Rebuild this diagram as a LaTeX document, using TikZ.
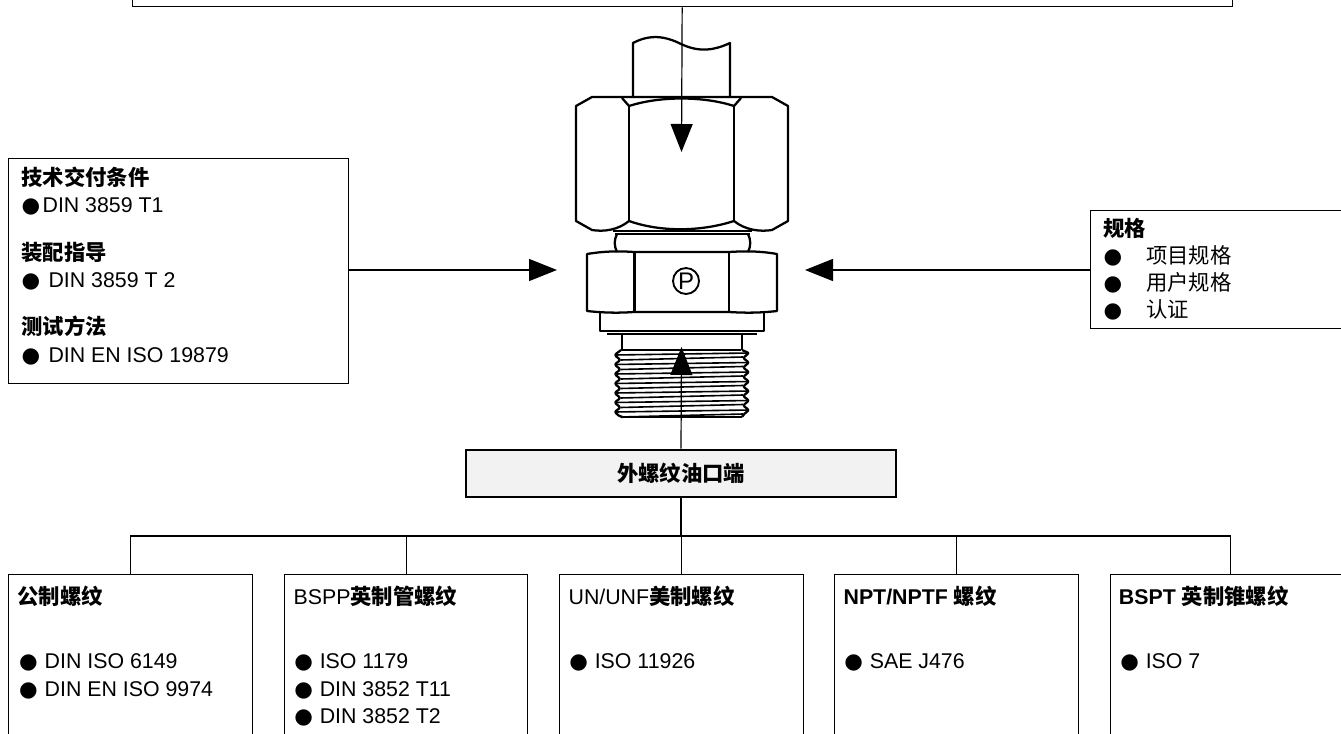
\documentclass[tikz,border=0pt]{standalone}
\usepackage{fontspec}
\setmainfont{Liberation Sans}
\newfontfamily\cjk{Noto Sans CJK SC}
\newfontfamily\sym{DejaVu Sans}
\usetikzlibrary{arrows.meta,positioning}
\newcommand{\px}{0.75pt}
\newcommand{\bul}{\makebox[15.75pt][l]{\sym ●}}
\newcommand{\bulsp}{\bul\hspace{3.4pt}}
\begin{document}
\begin{tikzpicture}[
  x=0.75pt,y=-0.75pt,
  box/.style={draw,line width=1pt,anchor=north west,minimum height=200*\px},
  txt/.style={inner sep=0pt,anchor=north west,align=left,font=\fontsize{16}{20.6}\selectfont},
  conn/.style={line width=0.9pt},
  arrow/.style={line width=0.9pt,-{Triangle[length=21pt,width=16.5pt]}},
  part/.style={line width=1.7pt,line join=round},
  thread/.style={line width=1.2pt}
]
\useasboundingbox (0,0) rectangle (1341,734);
\clip (0,0) rectangle (1341,734);

% fitting
\draw[part] (633,97) -- (633,43) .. controls (650,34) and (665,36) .. (681,44) .. controls (700,53) and (715,50) .. (730,43) -- (730,97);
\draw[part] (576,106) -- (592,97) -- (772,97) -- (788,106) -- (788,221) -- (772,230) .. controls (760,232) and (745,230) .. (734,221)
  .. controls (700,232) and (660,232) .. (629,221) .. controls (618,230) and (604,232) .. (592,230) -- (576,221) -- cycle;
\draw[part] (629,106) -- (629,221) (734,106) -- (734,221);
\draw[part] (629,106) .. controls (660,96) and (703,96) .. (734,106);
\draw[part] (622,98) -- (629,106) (741,98) -- (734,106);
\draw[part] (613,231) -- (752,231) (615,234) -- (750,234);
\draw[part] (617,234) .. controls (614,240) and (614,246) .. (617,252) (748,234) .. controls (751,240) and (751,246) .. (748,252);
\draw[part] (587,254) .. controls (605,251) and (620,251) .. (634,252) -- (729,252) .. controls (745,251) and (760,251) .. (777,254) -- (777,311)
  .. controls (760,313) and (745,313) .. (729,312) -- (634,312) .. controls (620,313) and (605,313) .. (587,311) -- cycle;
\draw[part] (634.5,252) -- (634.5,312) (729,252) -- (729,312);
\draw[part] (600,313) -- (600,331) -- (764,331) -- (764,313);
\draw[part] (607,334) -- (757,334);
\draw[part] (622,334) -- (622,350) (742,334) -- (742,350);
\draw[part] (621,350) -- (741,350) (621,417) -- (742,417);
\draw[part,rounded corners=1.5pt] (621,350) \foreach \n in {0,...,6} { -- (614.5,355+9.5*\n) -- (620.5,360+9.5*\n) } -- (621,417);
\draw[part,rounded corners=1.5pt] (742,350) \foreach \n in {0,...,6} { -- (749,353+9.5*\n) -- (743,358+9.5*\n) } -- (742,417);
\foreach \n in {0,...,6} {
  \draw[thread] (615,355+9.5*\n) -- (749,353+9.5*\n);
  \draw[thread] (620.5,360+9.5*\n) -- (743,357+9.5*\n);
}
\node[circle,draw,line width=1.4pt,inner sep=0pt,minimum size=26*\px,font=\fontsize{18}{18}\selectfont] (port) at (686,281) {P};

% boxes
\node[box,minimum width=1100*\px] (topbox) at (131.5,-194) {};
\node[box,minimum width=340*\px,minimum height=225*\px] (delivery) at (8,158) {};
\node[box,minimum width=300*\px,minimum height=118*\px] (spec) at (1090,210) {};
\node[draw,line width=2pt,fill=black!5,minimum width=430*\px,minimum height=47*\px,font=\fontsize{16}{20.6}\selectfont\bfseries\cjk] (port box) at (681,473.5) {外螺纹油口端};
\node[box,minimum width=244*\px] (metric) at (8,573.7) {};
\node[box,minimum width=243*\px] (bspp) at (284,573.7) {};
\node[box,minimum width=244*\px] (unf) at (559,573.7) {};
\node[box,minimum width=244*\px] (npt) at (834,573.7) {};
\node[box,minimum width=300*\px] (bspt) at (1110,573.7) {};

% box texts
\node[txt,below right=6.5pt and 10pt of delivery.north west] (delivery text) {{\bfseries\cjk 技术交付条件}\\\bul DIN 3859 T1\\[14.8pt]{\bfseries\cjk 装配指导}\\\bul\ DIN 3859 T 2\\[14.8pt]{\bfseries\cjk 测试方法}\\\bul\ DIN EN ISO 19879};
\node[txt,below right=6pt and 10pt of spec.north west,font=\fontsize{16}{20.2}\selectfont] (spec text) {{\bfseries\cjk 规格}\\\makebox[32pt][l]{\sym ●}{\cjk 项目规格}\\\makebox[32pt][l]{\sym ●}{\cjk 用户规格}\\\makebox[32pt][l]{\sym ●}{\cjk 认证}};
\node[txt,below right=9pt and 7pt of metric.north west] (metric title) {{\bfseries\cjk 公制螺纹}};
\node[txt,below right=9pt and 7pt of bspp.north west] (bspp title) {BSPP{\bfseries\cjk 英制管螺纹}};
\node[txt,below right=9pt and 7pt of unf.north west] (unf title) {UN/UNF{\bfseries\cjk 美制螺纹}};
\node[txt,below right=9pt and 7pt of npt.north west] (npt title) {\bfseries NPT/NPTF {\cjk 螺纹}};
\node[txt,below right=9pt and 6.5pt of bspt.north west] (bspt title) {\bfseries BSPT {\cjk 英制锥螺纹}};
\node[txt,below right=60pt and 8.2pt of metric.north west] (metric list) {\bulsp DIN ISO 6149\\\bulsp DIN EN ISO 9974};
\node[txt,below right=60pt and 7.5pt of bspp.north west] (bspp list) {\bulsp ISO 1179\\\bulsp DIN 3852 T11\\\bulsp DIN 3852 T2};
\node[txt,below right=60pt and 7.5pt of unf.north west] (unf list) {\bulsp ISO 11926};
\node[txt,below right=60pt and 7.5pt of npt.north west] (npt list) {\bulsp SAE J476};
\node[txt,below right=60pt and 7.5pt of bspt.north west] (bspt list) {\bulsp ISO 7};

% arrows
\coordinate (hextip) at (681.5,152);
\coordinate (lefttip) at (557,270);
\coordinate (righttip) at (805,270);
\coordinate (threadtip) at (681.5,347);
\coordinate (busl) at (130,536);
\coordinate (busr) at (1230.7,536);
\draw[arrow] (topbox.south) -- (hextip);
\draw[arrow] (delivery.east |- lefttip) -- (lefttip);
\draw[arrow] (spec.west |- righttip) -- (righttip);
\draw[arrow] (port box.north) -- (threadtip);

% tree
\draw[conn] (port box.south) -- (port box.south |- busl);
\draw[conn] (busl) -- (busr);
\foreach \n in {metric,bspp,unf,npt} {
  \draw[conn] (\n.north |- busl) -- (\n.north);
}
\draw[conn] (busr) -- (busr |- bspt.north);
\end{tikzpicture}
\end{document}
